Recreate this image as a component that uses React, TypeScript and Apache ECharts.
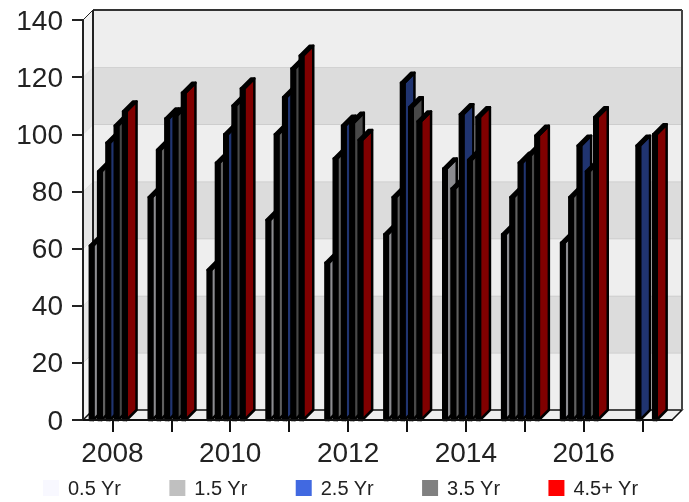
import React, { useEffect, useRef } from "react";
import * as echarts from "echarts";

const categories = ["2008", "2009", "2010", "2011", "2012", "2013", "2014", "2015", "2016", "2017"];
const seriesNames = ["0.5 Yr", "1.5 Yr", "2.5 Yr", "3.5 Yr", "4.5+ Yr"];
const y05 = [61, 78, 52.5, 70, 55, 65, 88, 65, 62, null];
const y15 = [87, 94.5, 90, 100, 91.5, 78, 81, 78, 78, null];
const y25 = [97, 105.5, 100, 113, 103, 118, 107, 90, 96, 96];
const y35 = [103, 106.5, 110, 123, 104, 109.5, 91, 92.5, 87, null];
const y45 = [108, 114.5, 116, 127.5, 98, 104.5, 106, 99.5, 106, 100];
const allSeries = [y05, y15, y25, y35, y45];
const legendColors = ["#f8f8ff", "#c0c0c0", "#4169e1", "#808080", "#ff0000"];
const sideColors = ["#8c8c90", "#606060", "#203470", "#484848", "#800000"];
const bandEdges = [0, 20, 40, 60, 80, 100, 120, 140];
const DEPTH = 10;

export default function App() {
  const ref = useRef<HTMLDivElement>(null);
  useEffect(() => {
    const chart = echarts.init(ref.current!, undefined, { renderer: "svg" });
    const wallSeries = {
      type: "custom",
      name: "wall",
      silent: true,
      clip: false,
      z: 1,
      encode: { x: 0, y: 1 },
      data: bandEdges.slice(0, -1).map((v, i) => [0, v, bandEdges[i + 1]]),
      renderItem: (params: any, api: any) => {
        const cs = params.coordSys;
        const i = params.dataIndex;
        const yLo = api.coord([0, api.value(1)])[1];
        const yHi = api.coord([0, api.value(2)])[1];
        const l = cs.x;
        const r = cs.x + cs.width;
        const fill = i % 2 === 0 ? "#eeeeee" : "#dcdcdc";
        const side = i % 2 === 0 ? "#f3f3f3" : "#e6e6e6";
        const last = i === bandEdges.length - 2;
        const children: any[] = [
          {
            type: "rect",
            shape: { x: l + DEPTH, y: yHi - DEPTH, width: cs.width, height: yLo - yHi },
            style: { fill },
          },
          {
            type: "polygon",
            shape: { points: [[l, yLo], [l + DEPTH, yLo - DEPTH], [l + DEPTH, yHi - DEPTH], [l, yHi]] },
            style: { fill: side },
          },
          {
            type: "line",
            shape: { x1: l, y1: yHi, x2: l + DEPTH, y2: yHi - DEPTH },
            style: { stroke: last ? "#222" : "#cfcfcf", lineWidth: 1 },
          },
          {
            type: "line",
            shape: { x1: l + DEPTH, y1: yHi - DEPTH, x2: r + DEPTH, y2: yHi - DEPTH },
            style: { stroke: last ? "#333" : "#c8c8c8", lineWidth: last ? 2 : 1.5 },
          },
        ];
        if (i === 0) {
          children.push({
            type: "polygon",
            shape: { points: [[l, yLo], [l + DEPTH, yLo - DEPTH], [r + DEPTH, yLo - DEPTH], [r, yLo]] },
            style: { fill: "#eeeeee", stroke: "#111", lineWidth: 1.5 },
          });
        }
        if (last) {
          const floorY = api.coord([0, 0])[1] - DEPTH;
          children.push(
            {
              type: "line",
              shape: { x1: l + DEPTH, y1: yHi - DEPTH, x2: l + DEPTH, y2: floorY },
              style: { stroke: "#222", lineWidth: 2 },
            },
            {
              type: "line",
              shape: { x1: r + DEPTH, y1: yHi - DEPTH, x2: r + DEPTH, y2: floorY },
              style: { stroke: "#444", lineWidth: 2 },
            }
          );
        }
        return { type: "group", children };
      },
    };
    const barSeries = allSeries.map((vals, s) => ({
      type: "custom",
      name: seriesNames[s],
      clip: false,
      z: 3,
      itemStyle: { color: legendColors[s] },
      encode: { x: 0, y: 1 },
      data: vals.map((v, i) => [i, v]).filter((d) => d[1] !== null),
      renderItem: (_: any, api: any) => {
        const [cx, top] = api.coord([api.value(0), api.value(1)]);
        const bottom = api.coord([api.value(0), 0])[1];
        const band = api.size([1, 0])[0];
        const x = cx + band * (-0.384 + s * 0.141);
        const w = 3.5;
        const xr = x + w;
        const st = { stroke: "#000", lineWidth: 2.5, lineJoin: "round" };
        return {
          type: "group",
          children: [
            {
              type: "polygon",
              shape: { points: [[xr, bottom], [xr + DEPTH, bottom - DEPTH], [xr + DEPTH, top - DEPTH], [xr, top]] },
              style: { fill: sideColors[s], ...st },
            },
            {
              type: "polygon",
              shape: { points: [[x, top], [x + DEPTH, top - DEPTH], [xr + DEPTH, top - DEPTH], [xr, top]] },
              style: { fill: "#000", ...st },
            },
            {
              type: "rect",
              shape: { x, y: top, width: w, height: bottom - top },
              style: { fill: "#000", ...st },
            },
          ],
        };
      },
    }));
    chart.setOption({
      animation: false,
      textStyle: { fontFamily: "Liberation Sans" },
      grid: { left: 83, right: 17, top: 20, bottom: 82, containLabel: false },
      legend: {
        left: 38,
        top: 473,
        itemWidth: 16,
        itemHeight: 16,
        itemGap: 48,
        icon: "rect",
        selectedMode: false,
        data: seriesNames.map((n, i) => ({ name: n, itemStyle: { color: legendColors[i] } })),
        textStyle: { fontSize: 20, color: "#222", padding: [0, 0, 0, 4] },
      },
      xAxis: {
        type: "category",
        data: categories,
        boundaryGap: true,
        z: 5,
        axisLine: { show: true, lineStyle: { color: "#111", width: 2 } },
        axisTick: { show: true, alignWithLabel: true, length: 12, interval: 0, lineStyle: { color: "#111", width: 2 } },
        axisLabel: { interval: 1, fontSize: 28, color: "#222", margin: 18 },
        splitLine: { show: false },
      },
      yAxis: {
        type: "value",
        min: 0,
        max: 140,
        interval: 20,
        z: 5,
        axisLine: { show: true, lineStyle: { color: "#222", width: 2 } },
        axisTick: { show: true, length: 11, lineStyle: { color: "#222", width: 2 } },
        axisLabel: { fontSize: 28, color: "#222", margin: 20 },
        splitLine: { show: false },
      },
      series: [wallSeries, ...barSeries],
    });
    return () => chart.dispose();
  }, []);
  return <div ref={ref} style={{ width: 689, height: 502, position: "fixed", left: 0, top: 0 }} />;
}
